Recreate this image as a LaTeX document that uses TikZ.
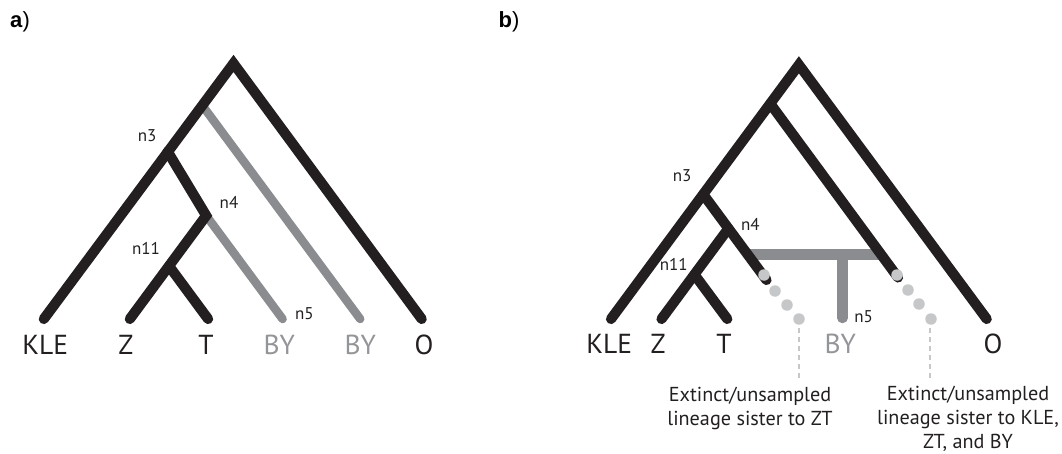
\documentclass[tikz,border=0pt]{standalone}
\usepackage{fontspec}
\setmainfont{PT Sans}
\newfontfamily\labfont{Liberation Sans}
\definecolor{blk}{HTML}{231F20}
\definecolor{gry}{HTML}{8A8C8F}
\definecolor{lgt}{HTML}{C6C7C9}
\definecolor{bytxt}{HTML}{939598}
\begin{document}
\begin{tikzpicture}[x=1pt,y=-1pt,
  branch/.style={draw=blk,line width=10.2pt,line cap=round,line join=miter},
  gbranch/.style={draw=gry,line width=8.5pt,line cap=round},
  gbar/.style={draw=gry,line width=10.7pt,line cap=butt},
  dot/.style={circle,fill=lgt,minimum size=11.5pt,inner sep=0pt},
  leaflab/.style={anchor=base,inner sep=0pt,font=\fontsize{27.5}{30}\selectfont,text=blk},
  nodelab/.style={anchor=base,inner sep=0pt,font=\fontsize{17}{20}\selectfont,text=blk},
  note/.style={align=center,inner sep=0pt,anchor=base,font=\fontsize{20.2}{23.7}\selectfont,text=blk},
  dashline/.style={draw=lgt,line width=2pt,dash pattern=on 5pt off 4pt}]
\useasboundingbox (0,0) rectangle (1062,454);
% ---------- panel a ----------
\node[anchor=base west,inner sep=0pt,font=\labfont\fontsize{22}{24}\selectfont] (pa) at (10,28) {\textbf{a})};
\coordinate (aKLE) at (43.8,319);
\coordinate (aZ) at (129.8,319);
\coordinate (aT) at (208.1,319);
\coordinate (aBY1) at (282.6,319);
\coordinate (aBY2) at (360.2,319);
\coordinate (aO) at (421.7,319);
\coordinate (aroot) at (233.5,63.4);
\coordinate (an11) at (169,266);
\coordinate (an4) at (206.2,215.6);
\coordinate (an3) at (167.6,151.5);
\coordinate (ag2) at (202,105);
\draw[gbranch] (an4) -- (aBY1);
\draw[gbranch] (ag2) -- (aBY2);
\draw[branch] (aKLE) -- (aroot) -- (aO);
\draw[branch] (aZ) -- (an4) -- (an3);
\draw[branch] (aT) -- (an11);
\node[leaflab] (lKLEa) at (45.2,354) {KLE};
\node[leaflab] (lZa) at (125.8,354) {Z};
\node[leaflab] (lTa) at (206,354) {T};
\node[leaflab,text=bytxt] (lBY1a) at (279.3,354) {BY};
\node[leaflab,text=bytxt] (lBY2a) at (360.2,354) {BY};
\node[leaflab] (lOa) at (424,354) {O};
\node[nodelab] (tn3a) at (147.2,141.4) {n3};
\node[nodelab] (tn4a) at (229,208.2) {n4};
\node[nodelab] (tn11a) at (146,254.7) {n11};
\node[nodelab] (tn5a) at (304.4,319.5) {n5};
% ---------- panel b ----------
\node[anchor=base west,inner sep=0pt,font=\labfont\fontsize{22}{24}\selectfont] (pb) at (498.5,28) {\textbf{b})};
\coordinate (bKLE) at (611,319);
\coordinate (bZ) at (661.5,319);
\coordinate (bT) at (727.3,319);
\coordinate (bO) at (986.7,319);
\coordinate (broot) at (798.9,64.8);
\coordinate (bn11) at (694.4,274.5);
\coordinate (bn4) at (728.4,228.5);
\coordinate (bn3) at (703.2,194.3);
\coordinate (bX) at (770.2,103.6);
\coordinate (be1) at (766.5,280);
\coordinate (be2) at (898,277.5);
\coordinate (bbarL) at (747.8,254.7);
\coordinate (bbarR) at (881.8,254.7);
\coordinate (bbarM) at (842.5,254.7);
\coordinate (bBY) at (842.5,318);
\draw[gbar] (bbarL) -- (bbarR);
\draw[gbranch,line width=10.5pt] (bbarM) -- (bBY);
\draw[gbar] (bbarM) -- ++(0,5);
\draw[branch] (bKLE) -- (broot) -- (bO);
\draw[branch] (bn3) -- (be1);
\draw[branch] (bX) -- (be2);
\draw[branch] (bZ) -- (bn4);
\draw[branch] (bT) -- (bn11);
\node[dot] (d11) at (764,275) {};
\node[dot] (d12) at (775,291) {};
\node[dot] (d13) at (787,305) {};
\node[dot] (d14) at (799,319) {};
\node[dot] (d21) at (897,275) {};
\node[dot] (d22) at (908,290) {};
\node[dot] (d23) at (919,304) {};
\node[dot] (d24) at (931,319) {};
\coordinate (k1a) at (799,328);
\coordinate (k1b) at (799,378.5);
\coordinate (k2a) at (930,328);
\coordinate (k2b) at (930,378.5);
\draw[dashline] (k1a) -- (k1b);
\draw[dashline] (k2a) -- (k2b);
\node[leaflab] (lKLEb) at (609.3,353) {KLE};
\node[leaflab] (lZb) at (658.2,353) {Z};
\node[leaflab] (lTb) at (723.9,353) {T};
\node[leaflab,text=bytxt] (lBYb) at (840.3,353) {BY};
\node[leaflab] (lOb) at (993,353) {O};
\node[nodelab] (tn3b) at (682.2,181.9) {n3};
\node[nodelab] (tn4b) at (750.4,230.8) {n4};
\node[nodelab] (tn11b) at (673.7,270.6) {n11};
\node[nodelab] (tn5b) at (863.6,322.2) {n5};
\node[note] (note1) at (750,425) {Extinct/unsampled\\lineage sister to ZT};
\node[note] (note2) at (968,448) {Extinct/unsampled\\lineage sister to KLE,\\ZT, and BY};
\end{tikzpicture}
\end{document}
